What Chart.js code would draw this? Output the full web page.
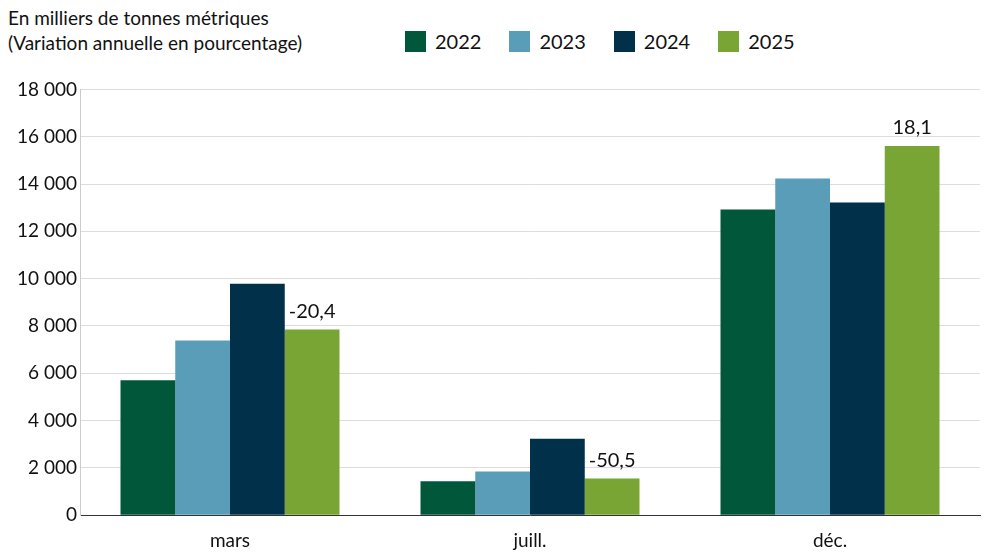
<!DOCTYPE html>
<html>
<head>
<meta charset="utf-8">
<script src="https://cdn.jsdelivr.net/npm/chart.js@4"></script>
<style>
  body { margin: 0; background: #fff; font-family: Lato, sans-serif; }
  #wrap { position: relative; width: 992px; height: 558px; }
  #title { position: absolute; left: 8px; top: 5px; font-size: 19px; line-height: 25px; color: #111; }
  #legend { position: absolute; left: 405px; top: 29px; display: flex; font-size: 20px; color: #111; }
  #legend span { display: flex; align-items: center; margin-right: 28px; }
  #legend i { display: inline-block; width: 21px; height: 21px; margin-right: 9px; }
  #c { position: absolute; left: 0; top: 75px; }
</style>
</head>
<body>
<div id="wrap">
  <div id="title">En milliers de tonnes métriques<br>(Variation annuelle en pourcentage)</div>
  <div id="legend"></div>
  <canvas id="c" width="992" height="483"></canvas>
</div>
<script>
const categories = ["mars", "juill.", "déc."];
const years = ["2022", "2023", "2024", "2025"];
const v2022 = [5700, 1430, 12920];
const v2023 = [7390, 1850, 14230];
const v2024 = [9780, 3230, 13220];
const v2025 = [7850, 1550, 15610];
const changes2025 = ["-20,4", "-50,5", "18,1"];
const colors = ["#00573a", "#5a9db8", "#00304a", "#78a534"];

const series = [v2022, v2023, v2024, v2025];

const legend = document.getElementById("legend");
years.forEach((y, i) => {
  legend.innerHTML += `<span><i style="background:${colors[i]}"></i>${y}</span>`;
});

const labelPlugin = {
  id: "changeLabels",
  afterDatasetsDraw(chart) {
    const ctx = chart.ctx;
    const meta = chart.getDatasetMeta(3);
    ctx.save();
    ctx.font = "20px Lato, sans-serif";
    ctx.fillStyle = "#111";
    ctx.textAlign = "center";
    ctx.textBaseline = "bottom";
    meta.data.forEach((bar, i) => {
      ctx.fillText(changes2025[i], bar.x, bar.y - 8);
    });
    ctx.restore();
  }
};

new Chart(document.getElementById("c"), {
  type: "bar",
  data: {
    labels: categories,
    datasets: years.map((y, i) => ({
      label: y,
      data: series[i],
      backgroundColor: colors[i],
      barPercentage: 1,
      categoryPercentage: 0.73
    }))
  },
  options: {
    responsive: false,
    animation: false,
    layout: { padding: { right: 12, top: 10 } },
    plugins: { legend: { display: false }, tooltip: { enabled: false } },
    scales: {
      x: {
        grid: { display: false },
        border: { color: "#333" },
        ticks: { color: "#111", font: { family: "Lato", size: 19 }, padding: 6 }
      },
      y: {
        min: 0, max: 18000,
        afterFit: s => { s.width = 80; },
        ticks: {
          stepSize: 2000,
          color: "#111",
          font: { family: "Lato", size: 19 },
          callback: v => v.toLocaleString("fr-FR").replace(/\s/g, " ")
        },
        grid: { color: "#ddd", drawTicks: false },
        border: { display: true, color: "#ccc" }
      }
    }
  },
  plugins: [labelPlugin]
});
</script>
</body>
</html>
